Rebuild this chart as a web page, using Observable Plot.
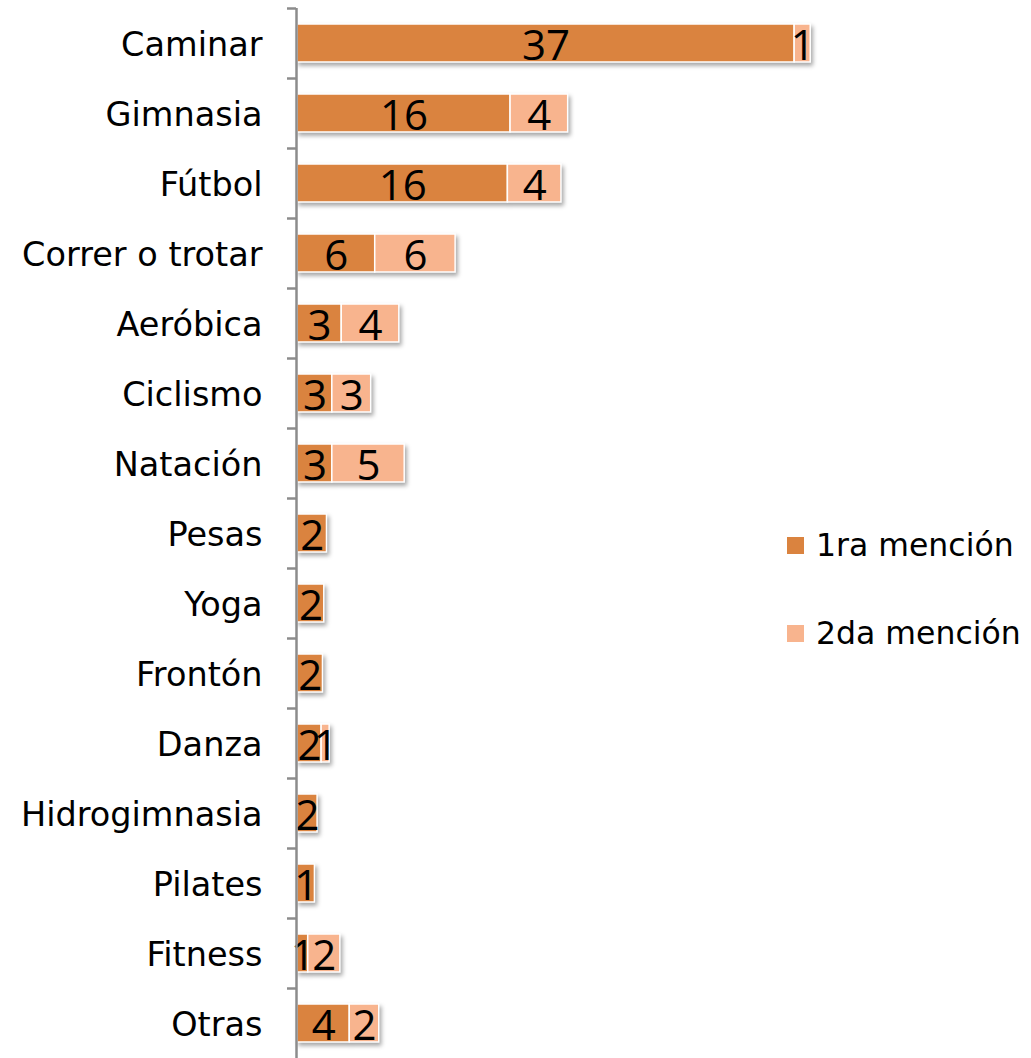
<!DOCTYPE html>
<html>
<head>
<meta charset="utf-8">
<script src="https://cdn.jsdelivr.net/npm/d3@7"></script>
<script src="https://cdn.jsdelivr.net/npm/@observablehq/plot@0.6"></script>
<style>
  html, body { margin: 0; padding: 0; background: #fff; }
  #wrap { position: relative; width: 1031px; height: 1058px; overflow: hidden; }
  #legend { position: absolute; left: 787px; top: 522px; font-family: "DejaVu Sans", sans-serif; font-size: 31.5px; color: #000; white-space: nowrap; }
  .item { display: flex; align-items: center; height: 46px; margin-bottom: 42px; white-space: nowrap; }
  .sw { width: 17px; height: 17px; margin-right: 12px; flex: none; }
</style>
</head>
<body>
<div id="wrap"><div id="legend"></div></div>
<script>
const categories = ["Caminar", "Gimnasia", "Fútbol", "Correr o trotar", "Aeróbica", "Ciclismo", "Natación", "Pesas", "Yoga", "Frontón", "Danza", "Hidrogimnasia", "Pilates", "Fitness", "Otras"];
const series = ["1ra mención", "2da mención"];
const primera = [37.1, 15.9, 15.7, 5.8, 3.3, 2.6, 2.6, 2.2, 2.0, 1.9, 1.8, 1.5, 1.3, 0.8, 3.9];
const segunda = [1.2, 4.3, 4.0, 6.0, 4.3, 2.9, 5.4, 0, 0, 0, 0.6, 0, 0, 2.4, 2.2];
const colors = ["#DA833F", "#F8B48E"];

const rows = [];
categories.forEach((c, i) => {
  rows.push({cat: c, serie: series[0], value: primera[i]});
  rows.push({cat: c, serie: series[1], value: segunda[i]});
});

const pxPerUnit = 13.4;
const chart = Plot.plot({
  width: 1031,
  height: 1058,
  marginLeft: 296,
  marginRight: 0,
  marginTop: 8,
  marginBottom: 0,
  style: {fontFamily: "DejaVu Sans, sans-serif", background: "white"},
  x: {domain: [0, 50], range: [297, 297 + 50 * pxPerUnit], axis: null},
  y: {domain: categories, padding: 0, axis: null},
  color: {domain: series, range: colors},
  marks: [
    Plot.barX(rows, Plot.stackX({
      x: "value", y: "cat", fill: "serie",
      insetTop: 16, insetBottom: 16,
      stroke: "white", strokeWidth: 1.5
    })),
    Plot.text(rows, Plot.stackX({
      x: "value", y: "cat", z: "serie",
      text: d => d.value > 0 ? String(Math.round(d.value)) : null,
      fontFamily: "Open Sans, sans-serif", fontSize: 42, fill: "black", dy: 3
    })),
    Plot.ruleX([0], {stroke: "#8c8c8c", strokeWidth: 2.5, dx: -1}),
    Plot.axisY({anchor: "left", fill: "none", tickSize: 9, dy: -35, stroke: "#8c8c8c", strokeWidth: 2.5, label: null}),
    Plot.axisY({anchor: "left", tickSize: 0, tickPadding: 34, fontSize: 33.5, fill: "black", dy: 2, label: null})
  ]
});

d3.select(chart).selectAll('g[aria-label="bar"]').style("filter", "drop-shadow(2px 3px 2px rgba(0,0,0,0.35))");
document.getElementById("wrap").prepend(chart);

const legend = document.getElementById("legend");
series.forEach((s, i) => {
  const it = document.createElement("div");
  it.className = "item";
  const sw = document.createElement("div");
  sw.className = "sw";
  sw.style.background = colors[i];
  const t = document.createElement("span");
  t.textContent = s;
  it.appendChild(sw);
  it.appendChild(t);
  legend.appendChild(it);
});
</script>
</body>
</html>
